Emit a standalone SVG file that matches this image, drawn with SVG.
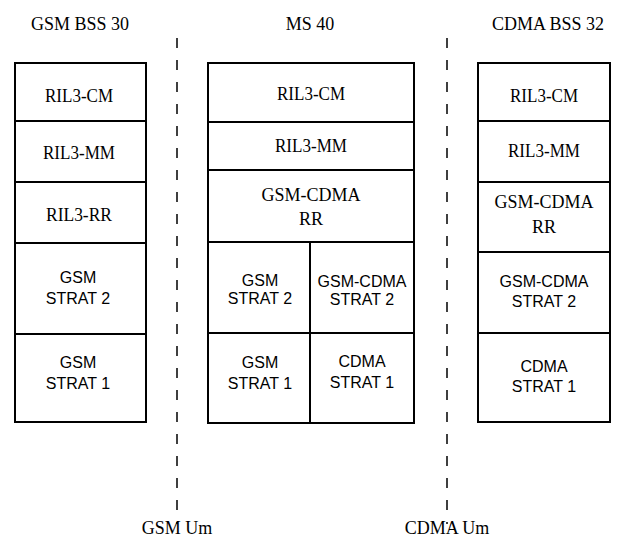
<svg xmlns="http://www.w3.org/2000/svg" width="619" height="542" viewBox="0 0 619 542">
<style>
.bg{fill:#fff}
.box{fill:#fff;stroke:#000;stroke-width:2}
.rm{font-family:"Liberation Serif","Times New Roman",serif;font-size:18px;fill:#000;text-anchor:middle}
.sf{font-family:"Liberation Sans",Arial,sans-serif;font-size:16px;fill:#000;text-anchor:middle}
.dash{stroke:#000;stroke-width:1.5;stroke-dasharray:10 12;fill:none}
</style>
<rect class="bg" width="619" height="542"/>
<g id="titles">
<text class="rm" x="80" y="30">GSM BSS 30</text>
<text class="rm" x="310" y="30">MS  40</text>
<text class="rm" x="548" y="30">CDMA  BSS 32</text>
</g>
<g id="connectors">
<line class="dash" x1="177" y1="38" x2="177" y2="524"/>
<line class="dash" x1="447" y1="38" x2="447" y2="524"/>
</g>
<g id="gsm-bss-30">
<g id="gsm-cm"><rect class="box" x="15" y="63" width="131" height="58"/><text class="rm" x="79" y="102" textLength="68" lengthAdjust="spacingAndGlyphs">RIL3-CM</text></g>
<g id="gsm-mm"><rect class="box" x="15" y="121" width="131" height="61"/><text class="rm" x="79" y="159" textLength="72" lengthAdjust="spacingAndGlyphs">RIL3-MM</text></g>
<g id="gsm-rr"><rect class="box" x="15" y="182" width="131" height="61"/><text class="rm" x="79" y="221" textLength="66" lengthAdjust="spacingAndGlyphs">RIL3-RR</text></g>
<g id="gsm-strat2"><rect class="box" x="15" y="243" width="131" height="91"/><text class="sf" x="78" y="283">GSM</text><text class="sf" x="78" y="304">STRAT 2</text></g>
<g id="gsm-strat1"><rect class="box" x="15" y="334" width="131" height="88"/><text class="sf" x="78" y="368">GSM</text><text class="sf" x="78" y="389">STRAT 1</text></g>
</g>
<g id="ms-40">
<g id="ms-cm"><rect class="box" x="208" y="63" width="206" height="59"/><text class="rm" x="311" y="100" textLength="68" lengthAdjust="spacingAndGlyphs">RIL3-CM</text></g>
<g id="ms-mm"><rect class="box" x="208" y="122" width="206" height="48"/><text class="rm" x="311" y="152" textLength="72" lengthAdjust="spacingAndGlyphs">RIL3-MM</text></g>
<g id="ms-rr"><rect class="box" x="208" y="170" width="206" height="72"/><text class="rm" x="311" y="201">GSM-CDMA</text><text class="rm" x="311" y="225">RR</text></g>
<g id="ms-gsm-strat2"><rect class="box" x="208" y="242" width="102" height="91"/><text class="sf" x="260" y="286">GSM</text><text class="sf" x="260" y="304">STRAT 2</text></g>
<g id="ms-gc-strat2"><rect class="box" x="310" y="242" width="104" height="91"/><text class="sf" x="362" y="287">GSM-CDMA</text><text class="sf" x="362" y="305">STRAT 2</text></g>
<g id="ms-gsm-strat1"><rect class="box" x="208" y="333" width="102" height="90"/><text class="sf" x="260" y="368">GSM</text><text class="sf" x="260" y="389">STRAT 1</text></g>
<g id="ms-cdma-strat1"><rect class="box" x="310" y="333" width="104" height="90"/><text class="sf" x="362" y="367">CDMA</text><text class="sf" x="362" y="388">STRAT 1</text></g>
</g>
<g id="cdma-bss-32">
<g id="cdma-cm"><rect class="box" x="478" y="63" width="132" height="58"/><text class="rm" x="544" y="102" textLength="68" lengthAdjust="spacingAndGlyphs">RIL3-CM</text></g>
<g id="cdma-mm"><rect class="box" x="478" y="121" width="132" height="61"/><text class="rm" x="544" y="157" textLength="72" lengthAdjust="spacingAndGlyphs">RIL3-MM</text></g>
<g id="cdma-rr"><rect class="box" x="478" y="182" width="132" height="70"/><text class="rm" x="544" y="208">GSM-CDMA</text><text class="rm" x="544" y="233">RR</text></g>
<g id="cdma-strat2"><rect class="box" x="478" y="252" width="132" height="81"/><text class="sf" x="544" y="287">GSM-CDMA</text><text class="sf" x="544" y="307">STRAT 2</text></g>
<g id="cdma-strat1"><rect class="box" x="478" y="333" width="132" height="89"/><text class="sf" x="544" y="372">CDMA</text><text class="sf" x="544" y="392">STRAT 1</text></g>
</g>
<g id="interface-labels">
<text class="rm" x="177" y="534">GSM Um</text>
<text class="rm" x="447" y="534">CDMA Um</text>
</g>
</svg>
